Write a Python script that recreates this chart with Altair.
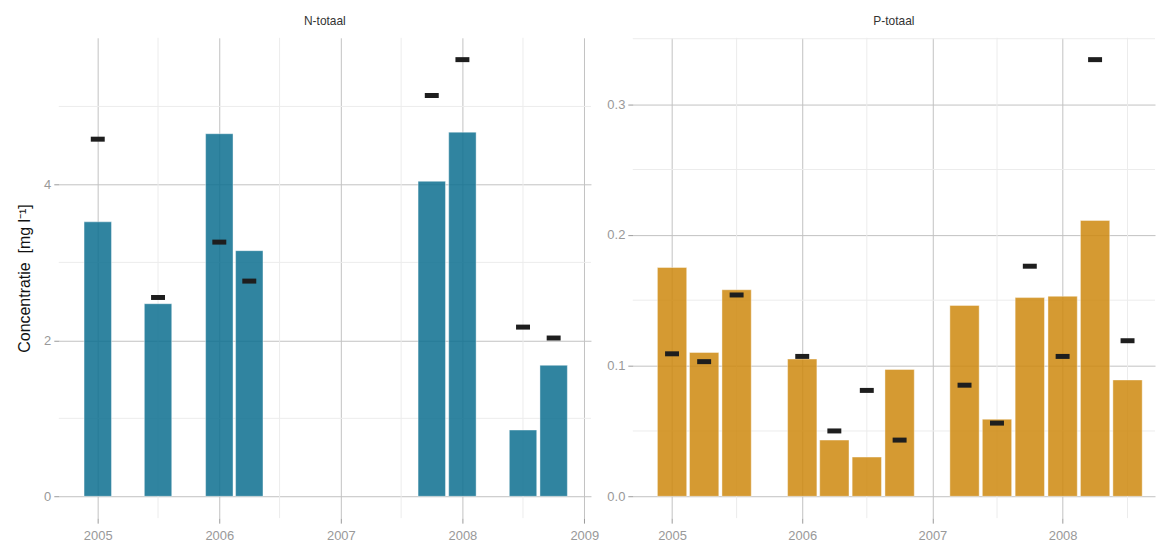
import altair as alt
import pandas as pd

# N-totaal: quarterly sample dates, measured concentration (bars) and reference value (dashes)
N_DATES = ["2005-01-01", "2005-07-01", "2006-01-01", "2006-04-01",
           "2007-10-01", "2008-01-01", "2008-07-01", "2008-10-01"]
N_BAR = [3.52, 2.47, 4.65, 3.15, 4.04, 4.67, 0.85, 1.68]
N_DASH = [4.58, 2.55, 3.26, 2.76, 5.14, 5.60, 2.17, 2.03]

# P-totaal
P_DATES = ["2005-01-01", "2005-04-01", "2005-07-01", "2006-01-01", "2006-04-01",
           "2006-07-01", "2006-10-01", "2007-04-01", "2007-07-01", "2007-10-01",
           "2008-01-01", "2008-04-01", "2008-07-01"]
P_BAR = [0.175, 0.110, 0.158, 0.105, 0.043, 0.030, 0.097, 0.146, 0.059, 0.152,
         0.153, 0.211, 0.089]
P_DASH = [0.109, 0.103, 0.154, 0.107, 0.050, 0.081, 0.043, 0.085, 0.056, 0.176,
          0.107, 0.334, 0.119]

N_YEARS = [2005, 2006, 2007, 2008, 2009]
P_YEARS = [2005, 2006, 2007, 2008]
N_Y_TICKS = [0, 2, 4]
N_Y_MINOR = [1, 3, 5]
P_Y_TICKS = [0.0, 0.1, 0.2, 0.3]
P_Y_MINOR = [0.05, 0.15, 0.25, 0.35]
MID_YEARS = ["2005-07-01", "2006-07-01", "2007-07-01", "2008-07-01"]

FONT = "Liberation Sans"


def dt(y, m, d):
    return alt.DateTime(year=y, month=m, date=d, utc=True)


def panel(title, dates, bars, dashes, x_dom, years, y_dom, y_ticks, y_minor,
          fmt, color, bar_w, width, y_title):
    df = pd.DataFrame({"datum": dates, "waarde": bars, "norm": dashes})

    def xenc():
        return alt.X(
            "datum:T",
            scale=alt.Scale(type="utc", domain=x_dom, padding=0),
            axis=alt.Axis(values=[dt(y, 1, 1) for y in years], format="%Y",
                          labelPadding=6),
            title=None,
        )

    def yenc(field):
        kw = dict(values=y_ticks, format=fmt, labelPadding=3)
        if y_title:
            kw.update(title=y_title)
        return alt.Y(
            f"{field}:Q",
            scale=alt.Scale(domain=y_dom, nice=False, zero=False, padding=0),
            axis=alt.Axis(**kw),
            title=y_title if y_title else None,
        )

    minor_y = alt.Chart(pd.DataFrame({"waarde": y_minor})).mark_rule(
        color="#ececec", strokeWidth=1
    ).encode(y=yenc("waarde"))
    minor_x = alt.Chart(pd.DataFrame({"datum": MID_YEARS})).mark_rule(
        color="#ececec", strokeWidth=1
    ).encode(x=xenc())
    bar = alt.Chart(df).mark_bar(
        width=bar_w, color=color, fillOpacity=0.85,
        stroke="#ffffff", strokeWidth=0.8, strokeOpacity=0.5
    ).encode(x=xenc(), y=yenc("waarde"))
    dash = alt.Chart(df).mark_tick(
        orient="horizontal", size=14, thickness=5, color="#1e1e1e", opacity=1
    ).encode(x=xenc(), y=yenc("norm"))

    return alt.layer(minor_y, minor_x, bar, dash).properties(
        width=width, height=482,
        title=alt.TitleParams(title, fontSize=12, font=FONT, color="#333333",
                              fontWeight="normal", anchor="middle", offset=9),
    )


left = panel("N-totaal", N_DATES, N_BAR, N_DASH,
             [dt(2004, 9, 6), dt(2009, 1, 21)], N_YEARS,
             [-0.28, 5.88], N_Y_TICKS, N_Y_MINOR, "d",
             "#0c6e8f", 27.5, 534, "Concentratie\u00a0 [mg l⁻¹]")
right = panel("P-totaal", P_DATES, P_BAR, P_DASH,
              [dt(2004, 9, 13), dt(2008, 9, 16)], P_YEARS,
              [-0.0167, 0.3507], P_Y_TICKS, P_Y_MINOR, ".1f",
              "#ce880e", 29.4, 524, None)

chart = alt.hconcat(left, right, spacing=42, bounds="flush").properties(
    padding={"left": 16, "top": 14, "right": 0, "bottom": 0}
).configure_view(strokeWidth=0).configure_axis(
    domain=False,
    grid=True,
    gridColor="#c2c2c2",
    gridWidth=1,
    tickColor="#9a9a9a",
    tickSize=5,
    labelColor="#999999",
    labelFont=FONT,
    labelFontSize=13,
    titleFont=FONT,
    titleFontSize=16,
    titleFontWeight="normal",
    titleColor="#111111",
    titlePadding=11,
)

chart.save("out.html", embed_options={"renderer": "svg", "actions": False})
